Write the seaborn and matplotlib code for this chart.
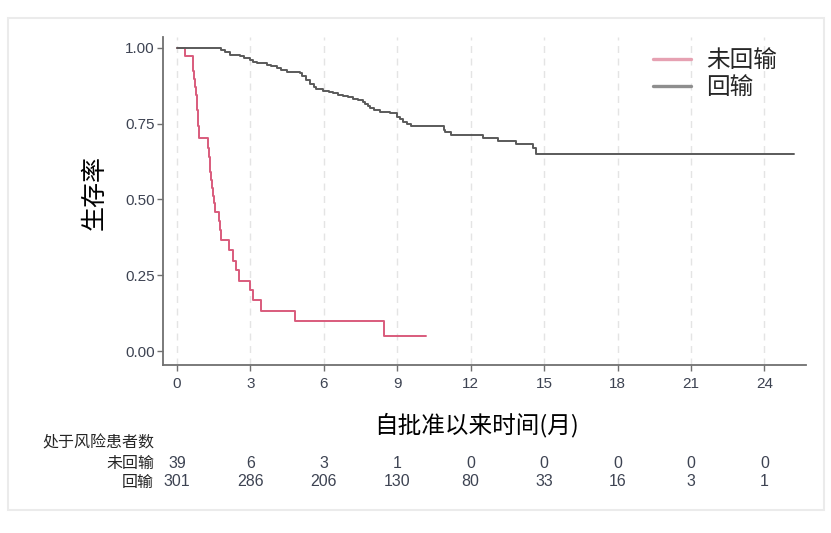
import matplotlib
matplotlib.use('Agg')
import matplotlib.pyplot as plt
import seaborn as sns
import pandas as pd
from matplotlib.patches import Rectangle
from matplotlib.lines import Line2D
from matplotlib.transforms import blended_transform_factory

# ---------------- data ----------------
group_labels = ['未回输', '回输']

no_time = [0.00, 0.33, 0.64, 0.67, 0.70, 0.74, 0.77, 0.80, 0.83, 0.86, 0.88, 0.90,
           1.25, 1.29, 1.33, 1.36, 1.39, 1.42, 1.46, 1.50, 1.55, 1.73, 1.76, 1.79,
           2.14, 2.30, 2.43, 2.54, 2.98, 3.12, 3.43, 4.82, 8.46, 10.19]
no_surv = [1.000, 0.974, 0.949, 0.923, 0.897, 0.872, 0.846, 0.821, 0.795, 0.769, 0.744, 0.703,
           0.670, 0.641, 0.615, 0.590, 0.564, 0.538, 0.513, 0.487, 0.458, 0.430, 0.400, 0.365,
           0.332, 0.298, 0.267, 0.232, 0.200, 0.168, 0.133, 0.099, 0.050, 0.050]

yes_time = [0.00, 1.76, 1.80, 1.95, 2.16, 2.57, 2.75, 2.98, 3.10, 3.25, 3.66, 3.85, 4.07,
            4.25, 4.48, 5.02, 5.12, 5.29, 5.45, 5.60, 5.70, 5.97, 6.20, 6.38, 6.60, 6.79,
            7.00, 7.20, 7.40, 7.60, 7.70, 7.80, 7.88, 8.05, 8.29, 8.69, 8.97, 9.10, 9.24,
            9.40, 9.58, 10.90, 10.95, 11.20, 12.50, 13.12, 13.87, 14.55, 14.68, 25.22]
yes_surv = [1.000, 1.000, 0.993, 0.987, 0.977, 0.973, 0.967, 0.960, 0.955, 0.949, 0.944, 0.939, 0.933,
            0.928, 0.922, 0.916, 0.906, 0.894, 0.882, 0.870, 0.863, 0.858, 0.854, 0.850, 0.846, 0.842,
            0.837, 0.831, 0.827, 0.823, 0.815, 0.808, 0.801, 0.795, 0.788, 0.784, 0.771, 0.765, 0.757,
            0.750, 0.743, 0.730, 0.722, 0.712, 0.702, 0.693, 0.682, 0.669, 0.651, 0.651]

x_ticks = [0, 3, 6, 9, 12, 15, 18, 21, 24]
y_ticks = [0.00, 0.25, 0.50, 0.75, 1.00]
risk_no = [39, 6, 3, 1, 0, 0, 0, 0, 0]
risk_yes = [301, 286, 206, 130, 80, 33, 16, 3, 1]

x_label = '自批准以来时间(月)'
y_label = '生存率'
risk_title = '处于风险患者数'

# ---------------- style ----------------
sns.set_style('white')
plt.rcParams['font.family'] = ['Liberation Sans', 'Noto Sans CJK SC', 'DejaVu Sans']
CJK = ['Noto Sans CJK SC', 'DejaVu Sans']

red = '#d95b7c'
gray = '#5a5a5a'
num_color = '#3d4352'

df = pd.concat([
    pd.DataFrame({'time': no_time, 'surv': no_surv, 'group': group_labels[0]}),
    pd.DataFrame({'time': yes_time, 'surv': yes_surv, 'group': group_labels[1]}),
], ignore_index=True)

W, H = 831, 533
fig = plt.figure(figsize=(W / 100, H / 100), dpi=100)
L, R, T, B = 163, 806, 37, 365
ax = fig.add_axes([L / W, 1 - B / H, (R - L) / W, (B - T) / H])

sns.lineplot(data=df, x='time', y='surv', hue='group', hue_order=group_labels,
             palette={group_labels[0]: red, group_labels[1]: gray},
             estimator=None, drawstyle='steps-post', linewidth=1.4, legend=False, ax=ax)

ax.set_xlim(-0.57, 25.7)
ax.set_ylim(-0.046, 1.036)
ax.set_xticks(x_ticks)
ax.set_xticklabels([str(v) for v in x_ticks])
ax.set_yticks(y_ticks)
ax.set_yticklabels([f'{v:.2f}' for v in y_ticks])

for s in ['top', 'right']:
    ax.spines[s].set_visible(False)
for s in ['left', 'bottom']:
    ax.spines[s].set_color('#707070')
    ax.spines[s].set_linewidth(1.3)

ax.tick_params(axis='both', which='major', direction='out', length=4, width=1,
               color='#707070', labelsize=11, labelcolor=num_color)
ax.tick_params(axis='x', pad=5, bottom=True)
ax.tick_params(axis='y', pad=2, left=True)

ax.xaxis.grid(True, color='#e4e4e4', linestyle=(0, (5, 4)), linewidth=1.0)
ax.yaxis.grid(False)
ax.set_axisbelow(True)

ax.set_xlabel(x_label, fontsize=17, family=CJK, color='black')
ax.xaxis.set_label_coords((477 - L) / (R - L), (B - 425) / (B - T))
ax.xaxis.label.set_va('center')
ax.set_ylabel(y_label, fontsize=18, family=CJK, color='black')
ax.yaxis.set_label_coords((95 - L) / (R - L), (B - 192) / (B - T))
ax.yaxis.label.set_va('center')

handles = [Line2D([0], [0], color='#e6a1b2', lw=2.4),
           Line2D([0], [0], color='#8e8e8e', lw=2.4)]
fig.legend(handles, group_labels, loc='upper left', bbox_to_anchor=(653 / W, 1 - 49 / H),
           frameon=False, prop={'family': CJK, 'size': 17}, handlelength=1.6,
           handletextpad=0.65, labelspacing=0.16, borderpad=0, borderaxespad=0)

# risk table
trans = blended_transform_factory(ax.transData, fig.transFigure)
fig.text(154 / W, 1 - 443 / H, risk_title, ha='right', va='center', fontsize=11.5, family=CJK)
fig.text(154 / W, 1 - 463 / H, group_labels[0], ha='right', va='center', fontsize=11.5, family=CJK)
fig.text(154 / W, 1 - 482 / H, group_labels[1], ha='right', va='center', fontsize=11.5, family=CJK)
for xt, a, b in zip(x_ticks, risk_no, risk_yes):
    ax.text(xt, 1 - 463 / H, str(a), transform=trans, ha='center', va='center',
            fontsize=11.5, color=num_color, clip_on=False)
    ax.text(xt, 1 - 482 / H, str(b), transform=trans, ha='center', va='center',
            fontsize=11.5, color=num_color, clip_on=False)

# light outer frame
fig.add_artist(Rectangle((8 / W, 1 - 510 / H), (824 - 8) / W, (510 - 18) / H,
                         transform=fig.transFigure, fill=False, edgecolor='#ebebeb', lw=1.5))

fig.savefig('out.png', dpi=100)
